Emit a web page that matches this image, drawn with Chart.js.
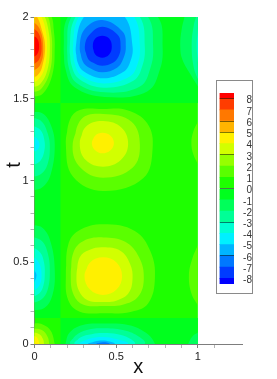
<!DOCTYPE html>
<html>
<head>
<meta charset="utf-8">
<title>u(x,t)</title>
<script src="https://cdn.jsdelivr.net/npm/chart.js@4"></script>
<style>
    body { margin: 0; background: #fff; }
    #plot { position: absolute; left: 0; top: 0; }
    #tLabel { position: absolute; left: 4px; top: 153px; width: 20px; height: 24px; line-height: 24px; text-align: center;
        font: 20px "Liberation Sans", sans-serif; color: #111; transform: rotate(-90deg); }
    #legendBox { position: absolute; left: 216px; top: 80px; width: 35px; height: 212px; border: 1px solid #8a8a8a; }
    #legendChart { display: block; }
</style>
</head>
<body>
<canvas id="plot" width="277" height="379"></canvas>
<div id="tLabel">t</div>
<div id="legendBox"><canvas id="legendChart" width="35" height="212"></canvas></div>
<script>
// Colour bands, lowest first. Band i runs from legendEdges[i] to legendEdges[i + 1]
const bandColors = ["#0000ff", "#003cff", "#0078ff", "#00b4ff", "#00f0ff", "#00ffd2", "#00ff96", "#00ff5a", "#00ff1e",
    "#1eff00", "#5aff00", "#96ff00", "#d2ff00", "#fff000", "#ffb400", "#ff7800", "#ff3c00", "#ff0000"];
const legendEdges = [-8.5, -8, -7, -6, -5, -4, -3, -2, -1, 0, 1, 2, 3, 4, 5, 6, 7, 8, 8.5];
const legendLevels = [8, 7, 6, 5, 4, 3, 2, 1, 0, -1, -2, -3, -4, -5, -6, -7, -8];
const legendDarkLines = [8, 6, 5, 3, 0, -3, -6];
const xTickLabels = [0, 0.5, 1];
const tTickLabels = [0, 0.5, 1, 1.5, 2];

// Regions split by the zero lines x=0.159, t=0.159 and t=1.474
const fieldPositive = [[0, 0], [1, 0], [1, 2], [0, 2]];
const fieldNegTop = [[0.159, 1.474], [1, 1.474], [1, 2], [0.159, 2]];
const fieldNegLeft = [[0, 0.159], [0.159, 0.159], [0.159, 1.474], [0, 1.474]];
const fieldNegBottom = [[0.159, 0], [1, 0], [1, 0.159], [0.159, 0.159]];

// Closed contours: [level, [x, t] points], outermost first
const topTrough = [
    [-1, [[.179, 1.82], [.19, 1.68], [.245, 1.57], [.43, 1.511], [.69, 1.545], [.768, 1.68], [.784, 1.82], [.755, 2], [.45, 2.3], [.204, 2]]],
    [-2, [[.2, 1.82], [.21, 1.69], [.26, 1.595], [.43, 1.539], [.645, 1.575], [.71, 1.69], [.726, 1.82], [.695, 2], [.44, 2.25], [.226, 2]]],
    [-3, [[.216, 1.82], [.228, 1.7], [.275, 1.62], [.425, 1.568], [.605, 1.61], [.66, 1.7], [.675, 1.82], [.645, 2], [.44, 2.2], [.251, 2]]],
    [-4, [[.236, 1.82], [.248, 1.71], [.29, 1.64], [.42, 1.594], [.58, 1.635], [.63, 1.71], [.645, 1.82], [.61, 2], [.43, 2.16], [.271, 2]]],
    [-5, [[.253, 1.82], [.265, 1.72], [.305, 1.665], [.42, 1.625], [.545, 1.665], [.587, 1.73], [.6, 1.82], [.553, 2], [.42, 2.06], [.302, 2]]],
    [-6, [[.277, 1.82], [.295, 1.73], [.335, 1.69], [.415, 1.662], [.505, 1.69], [.545, 1.75], [.559, 1.82], [.54, 1.91], [.415, 1.982], [.31, 1.93]]],
    [-7, [[.308, 1.82], [.325, 1.75], [.36, 1.72], [.415, 1.702], [.48, 1.72], [.515, 1.76], [.527, 1.82], [.51, 1.89], [.415, 1.941], [.335, 1.89]]],
    [-8, [[.357, 1.82], [.372, 1.77], [.415, 1.751], [.457, 1.77], [.473, 1.82], [.457, 1.868], [.415, 1.886], [.372, 1.868]]]
];
const middlePeak = [
    [1, [[.192, 1.217], [.216, 1.37], [.277, 1.431], [.418, 1.437], [.563, 1.431], [.69, 1.35], [.723, 1.197], [.665, 1.013], [.42, .936], [.236, 1.023]]],
    [2, [[.233, 1.207], [.288, 1.376], [.42, 1.407], [.594, 1.36], [.645, 1.217], [.6, 1.078], [.42, 1.017], [.282, 1.078]]],
    [3, [[.277, 1.227], [.314, 1.329], [.42, 1.364], [.533, 1.323], [.573, 1.221], [.528, 1.125], [.42, 1.084], [.314, 1.125]]],
    [4, [[.351, 1.23], [.371, 1.274], [.416, 1.292], [.465, 1.274], [.486, 1.23], [.465, 1.185], [.416, 1.166], [.371, 1.185]]]
];
const lowerPeak = [
    [1, [[.192, .422], [.206, .606], [.267, .691], [.42, .732], [.614, .691], [.71, .565], [.737, .402], [.696, .249], [.594, .198], [.42, .188], [.277, .198], [.206, .269]]],
    [2, [[.222, .42], [.238, .56], [.3, .63], [.42, .652], [.555, .625], [.64, .53], [.669, .4], [.635, .29], [.54, .24], [.42, .233], [.3, .24], [.24, .3]]],
    [3, [[.257, .42], [.277, .53], [.335, .575], [.42, .591], [.525, .57], [.585, .49], [.6, .4], [.575, .31], [.5, .265], [.42, .257], [.325, .268], [.272, .325]]],
    [4, [[.306, .415], [.34, .498], [.42, .53], [.502, .498], [.536, .415], [.502, .333], [.42, .3], [.34, .333]]]
];
const bottomTrough = [
    [-1, [[.185, -.05], [.19, 0], [.215, .07], [.29, .115], [.42, .125], [.58, .115], [.68, .07], [.73, .015], [.74, -.05], [.42, -.2]]],
    [-2, [[.22, 0], [.25, .05], [.32, .085], [.42, .096], [.54, .085], [.63, .05], [.674, 0], [.45, -.1]]],
    [-3, [[.246, 0], [.28, .04], [.35, .06], [.42, .067], [.51, .06], [.58, .035], [.613, 0], [.42, -.08]]],
    [-4, [[.277, 0], [.33, .03], [.42, .043], [.5, .03], [.572, 0], [.42, -.05]]],
    [-5, [[.328, 0], [.37, .016], [.42, .022], [.46, .015], [.491, 0], [.42, -.03]]],
    [-6, [[.379, 0], [.42, .01], [.46, 0], [.42, -.02]]]
];

// Contours cut by the left and right edges, left open and closed along the edge
const redLobe = [
    [1, [[-.02, 2.25], [.105, 2], [.118, 1.92], [.124, 1.82], [.11, 1.65], [.05, 1.53], [-.02, 1.511]]],
    [2, [[-.02, 2.2], [.083, 2], [.1, 1.92], [.108, 1.82], [.095, 1.67], [.04, 1.56], [-.02, 1.539]]],
    [3, [[-.02, 2.15], [.063, 2], [.085, 1.92], [.094, 1.82], [.08, 1.68], [.035, 1.59], [-.02, 1.568]]],
    [4, [[-.02, 2.1], [.043, 2], [.068, 1.92], [.077, 1.82], [.062, 1.69], [.025, 1.62], [-.02, 1.594]]],
    [5, [[-.02, 2.03], [.016, 2], [.045, 1.92], [.065, 1.82], [.048, 1.7], [.02, 1.645], [-.02, 1.625]]],
    [6, [[-.02, 1.982], [.03, 1.93], [.053, 1.82], [.036, 1.71], [-.02, 1.662]]],
    [7, [[-.02, 1.941], [.025, 1.9], [.043, 1.82], [.028, 1.74], [-.02, 1.702]]],
    [8, [[-.02, 1.886], [.015, 1.87], [.028, 1.82], [.015, 1.77], [-.02, 1.751]]]
];
const leftUpperLobe = [
    [-1, [[-.02, 1.42], [.05, 1.41], [.1, 1.34], [.124, 1.22], [.1, 1.04], [.05, .96], [-.02, .936]]],
    [-2, [[-.02, 1.39], [.045, 1.36], [.08, 1.29], [.094, 1.21], [.08, 1.1], [.04, 1.04], [-.02, 1.02]]],
    [-3, [[-.02, 1.34], [.035, 1.31], [.06, 1.25], [.06, 1.18], [.035, 1.12], [-.02, 1.09]]],
    [-4, [[-.02, 1.28], [.02, 1.25], [.03, 1.22], [.02, 1.19], [-.02, 1.17]]]
];
const leftLowerLobe = [
    [-1, [[-.02, .73], [.05, .71], [.1, .62], [.124, .45], [.11, .3], [.06, .22], [-.02, .205]]],
    [-2, [[-.02, .66], [.045, .63], [.08, .56], [.094, .45], [.08, .33], [.04, .27], [-.02, .25]]],
    [-3, [[-.02, .6], [.035, .56], [.058, .5], [.063, .43], [.055, .36], [.03, .31], [-.02, .285]]],
    [-4, [[-.02, .545], [.025, .5], [.043, .43], [.03, .36], [-.02, .315]]],
    [-5, [[-.02, .475], [.012, .42], [-.02, .345]]]
];
const cornerLobe = [
    [1, [[-.02, .127], [.05, .12], [.1, .08], [.124, 0], [.124, -.02], [-.02, -.02]]],
    [2, [[-.02, .097], [.045, .085], [.08, .045], [.09, 0], [.09, -.02], [-.02, -.02]]],
    [3, [[-.02, .075], [.03, .06], [.052, .03], [.058, 0], [.058, -.02], [-.02, -.02]]],
    [4, [[-.02, .052], [.015, .04], [.03, 0], [.03, -.02], [-.02, -.02]]]
];
const rightLobes = [
    [-1, [[1, 1.575], [.96, 1.64], [.905, 1.74], [.892, 1.82], [.9, 1.92], [.918, 2], [.93, 2.05], [1, 2.05]]],
    [-2, [[1, 1.62], [.975, 1.69], [.962, 1.82], [.975, 1.95], [1, 2.03]]],
    [-3, [[1, 1.72], [.993, 1.82], [1, 1.93]]],
    [1, [[1, 1.36], [.972, 1.3], [.96, 1.23], [.972, 1.16], [1, 1.1]]],
    [1, [[1, .605], [.965, .52], [.945, .42], [.96, .31], [1, .235]]],
    [-1, [[1, .07], [.965, .045], [.94, 0], [.93, -.02], [1, -.02]]]
];

// Contour k fills the band just beyond it, away from zero
function colorForLevel(level) {
    return level > 0 ? bandColors[9 + level] : bandColors[8 + level];
}

function area(points, color, tension) {
    return {
        data: points.map(p => ({ x: p[0], y: p[1] })),
        showLine: true,
        fill: "shape",
        backgroundColor: color,
        borderWidth: 0,
        pointRadius: 0,
        tension: tension
    };
}

const datasets = [
    area(fieldPositive, bandColors[9], 0),
    area(fieldNegTop, bandColors[8], 0),
    area(fieldNegLeft, bandColors[8], 0),
    area(fieldNegBottom, bandColors[8], 0)
];

for (const group of [topTrough, middlePeak, lowerPeak, bottomTrough]) {
    for (const [level, points] of group) {
        // run over the first two points again so the spline closes smoothly
        datasets.push(area([...points, points[0], points[1]], colorForLevel(level), 0.4));
    }
}
for (const group of [redLobe, leftUpperLobe, leftLowerLobe, cornerLobe, rightLobes]) {
    for (const [level, points] of group) {
        datasets.push(area(points, colorForLevel(level), 0.4));
    }
}
// first dataset is painted last in Chart.js, so give later contours a lower order
datasets.forEach((d, i) => { d.order = datasets.length - i; });

const axisColor = "#7d7d7d";
const fontFamily = '"Liberation Sans", sans-serif';

new Chart(document.getElementById("plot"), {
    type: "scatter",
    data: { datasets: datasets },
    options: {
        responsive: false,
        animation: false,
        layout: { padding: { top: 17, right: 35, left: 0, bottom: 0 } },
        plugins: { legend: { display: false }, tooltip: { enabled: false } },
        scales: {
            x: {
                type: "linear",
                min: 0,
                max: 1.27,
                afterFit: scale => { scale.height = 35; },
                border: { color: axisColor },
                grid: {
                    drawOnChartArea: false,
                    tickLength: 4,
                    tickColor: c => (c.tick.value > 1.15 ? "transparent" : xTickLabels.includes(c.tick.value) ? axisColor : "#b5b5b5")
                },
                ticks: {
                    stepSize: 0.1,
                    includeBounds: false,
                    autoSkip: false,
                    maxRotation: 0,
                    padding: 2,
                    color: "#222",
                    font: { family: fontFamily, size: 11 },
                    callback: v => (xTickLabels.includes(v) ? String(v) : "")
                },
                title: {
                    display: true,
                    text: "x",
                    color: "#111",
                    padding: { top: 0, bottom: 0 },
                    font: { family: fontFamily, size: 20 }
                }
            },
            y: {
                type: "linear",
                min: 0,
                max: 2,
                afterFit: scale => { scale.width = 34.5; },
                border: { color: axisColor },
                grid: {
                    drawOnChartArea: false,
                    tickLength: 4,
                    tickColor: c => (tTickLabels.includes(c.tick.value) ? axisColor : "#b5b5b5")
                },
                ticks: {
                    stepSize: 0.1,
                    autoSkip: false,
                    padding: 2,
                    color: "#222",
                    font: { family: fontFamily, size: 11 },
                    callback: v => (tTickLabels.includes(v) ? String(v) : "")
                }
            }
        }
    }
});

// Colour bar, drawn as floating bars
const legendDatasets = bandColors.map((color, i) => ({
    data: [[legendEdges[i], legendEdges[i + 1]]],
    backgroundColor: color,
    grouped: false,
    barPercentage: 1,
    categoryPercentage: 1
}));

new Chart(document.getElementById("legendChart"), {
    type: "bar",
    data: { labels: [""], datasets: legendDatasets },
    options: {
        responsive: false,
        animation: false,
        layout: { padding: { top: 12, bottom: 6.5, left: 2.5, right: 0 } },
        plugins: { legend: { display: false }, tooltip: { enabled: false } },
        scales: {
            x: { display: false },
            y: {
                min: -8.5,
                max: 8.5,
                afterFit: scale => { scale.width = 0; },
                afterBuildTicks: scale => { scale.ticks = legendLevels.map(v => ({ value: v })); },
                border: { display: false },
                grid: {
                    z: 1,
                    drawTicks: false,
                    color: c => (legendDarkLines.includes(c.tick.value) ? "rgba(0,0,0,0.5)" : "transparent")
                },
                ticks: { display: false }
            },
            // same range moved down a little, the labels sit just under their lines
            yLabels: {
                position: "right",
                min: -8.32,
                max: 8.68,
                afterFit: scale => { scale.width = 18; },
                afterBuildTicks: scale => { scale.ticks = legendLevels.map(v => ({ value: v })); },
                border: { display: false },
                grid: { display: false, drawTicks: false },
                ticks: {
                    autoSkip: false,
                    crossAlign: "far",
                    padding: 3,
                    color: "#333",
                    font: { family: fontFamily, size: 10 }
                }
            }
        }
    }
});
</script>
</body>
</html>
